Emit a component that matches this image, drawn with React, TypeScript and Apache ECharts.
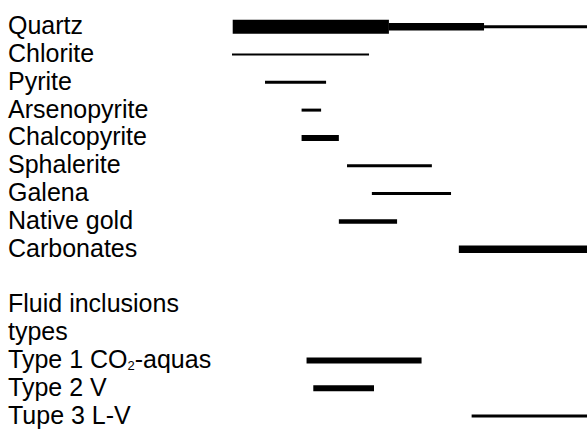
import React, { useEffect, useRef } from "react";
import * as echarts from "echarts";

// Row labels (top to bottom)
const categories = [
  "Quartz",
  "Chlorite",
  "Pyrite",
  "Arsenopyrite",
  "Chalcopyrite",
  "Sphalerite",
  "Galena",
  "Native gold",
  "Carbonates",
  " ",
  "Fluid inclusions",
  "types",
  "Type 1 CO2-aquas",
  "Type 2 V",
  "Tupe 3 L-V",
];

// Paragenetic segments: relative time (0 = early, 100 = late) and abundance class
const segmentRow = [
  "Quartz", "Quartz", "Quartz",
  "Chlorite",
  "Pyrite",
  "Arsenopyrite",
  "Chalcopyrite",
  "Sphalerite",
  "Galena",
  "Native gold",
  "Carbonates",
  "Type 1 CO2-aquas",
  "Type 2 V",
  "Tupe 3 L-V",
];
const segmentStart = [0.2, 44.2, 71, 0, 9.3, 19.6, 19.6, 32.4, 39.4, 30.1, 63.9, 21.0, 22.9, 67.5];
const segmentEnd = [44.2, 71, 100, 38.6, 26.5, 25.1, 30.1, 56.3, 61.7, 46.5, 100, 53.4, 40.0, 100];
const segmentAbundance = [6, 5, 2, 1, 2, 2, 4, 2, 2, 3, 5, 4, 4, 2];

const WEIGHT_PX: Record<number, number> = { 1: 2, 2: 3, 3: 4.5, 4: 6, 5: 7.5, 6: 14 };

export default function App() {
  const ref = useRef<HTMLDivElement>(null);
  useEffect(() => {
    if (!ref.current) return;
    const chart = echarts.init(ref.current, undefined, { renderer: "svg" });
    const data = segmentRow.map((r, i) => [
      categories.indexOf(r),
      segmentStart[i],
      segmentEnd[i],
      segmentAbundance[i],
    ]);
    chart.setOption({
      animation: false,
      backgroundColor: "#fff",
      grid: { left: 232, right: 0, top: 12.75, height: 418.5 },
      xAxis: {
        type: "value",
        min: 0,
        max: 100,
        show: false,
      },
      yAxis: {
        type: "category",
        inverse: true,
        data: categories,
        axisLine: { show: false },
        axisTick: { show: false },
        splitLine: { show: false },
        axisLabel: {
          interval: 0,
          align: "left",
          margin: 224,
          color: "#000",
          fontFamily: "Liberation Sans",
          fontSize: 25,
          padding: [0, 0, 3, 0],
          formatter: (v: string) => {
            if (v.indexOf("CO2") >= 0) {
              const [a, b] = v.split("CO2");
              return `{n|${a}CO}{s|2}{n|${b}}`;
            }
            return v;
          },
          rich: {
            n: { fontFamily: "Liberation Sans", fontSize: 25, color: "#000", lineHeight: 28 },
            s: {
              fontFamily: "Liberation Sans",
              fontSize: 13,
              color: "#000",
              lineHeight: 28,
              padding: [14, 0, 0, 0],
            },
          },
        },
      },
      series: [
        {
          type: "custom",
          clip: false,
          encode: { x: [1, 2], y: 0 },
          data,
          renderItem: (params: any, api: any) => {
            const row = api.value(0);
            const p0 = api.coord([api.value(1), row]);
            const p1 = api.coord([api.value(2), row]);
            const h = WEIGHT_PX[api.value(3)] || 3;
            return {
              type: "rect",
              shape: { x: p0[0], y: p0[1] - h / 2, width: p1[0] - p0[0], height: h },
              style: { fill: "#000" },
            };
          },
        },
      ],
    });
    return () => chart.dispose();
  }, []);
  return (
    <div
      ref={ref}
      style={{ position: "fixed", left: 0, top: 0, width: 587, height: 430 }}
    />
  );
}
